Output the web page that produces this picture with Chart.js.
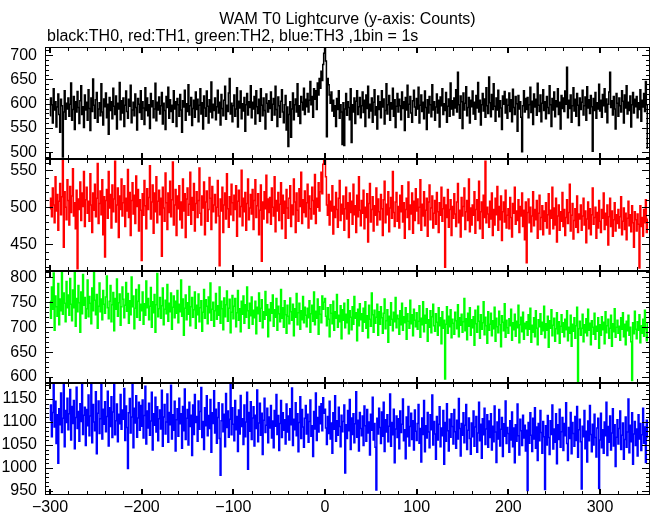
<!DOCTYPE html>
<html>
<head>
<meta charset="utf-8">
<title>WAM T0 Lightcurve</title>
<script src="https://cdn.jsdelivr.net/npm/chart.js@4/dist/chart.umd.min.js"></script>
<style>
  html, body { margin: 0; padding: 0; background: #fff; overflow: hidden; }
  canvas { display: block; }
</style>
</head>
<body>
<canvas id="lc" width="652" height="515"></canvas>
<script>
// ---- Dados (contagens por bin de 1 s, t = -300 ... 352) ----
const T_START = -300;
const BIN = 1;

const th0 = [
  575,612,598,560,631,587,604,552,593,620,578,541,609,596,490,583,627,568,601,589,
  612,574,599,643,566,588,615,547,604,583,625,592,559,606,637,578,594,551,618,587,
  603,566,629,590,545,612,584,651,597,570,608,623,562,589,602,575,641,583,556,610,
  594,622,571,599,537,613,586,604,569,632,595,578,616,548,601,589,644,567,606,581,
  612,553,597,626,584,570,609,595,638,561,587,603,575,620,592,546,611,599,582,627,
  568,604,591,557,633,586,612,575,598,549,621,594,606,571,589,642,565,603,587,614,
  579,596,623,558,601,586,547,615,592,634,570,608,584,597,562,627,589,604,553,611,
  598,574,619,587,541,606,593,628,566,600,584,639,577,596,613,555,590,607,572,624,
  588,609,563,597,631,579,602,548,616,591,574,626,595,560,608,583,645,571,599,586,
  612,567,594,628,581,603,556,619,590,575,607,636,568,597,584,622,652,579,601,563,
  596,618,574,589,633,552,605,591,626,569,600,585,613,543,598,621,577,604,592,637,
  571,603,589,615,558,627,594,580,609,564,631,597,575,612,586,548,620,601,583,606,
  590,624,566,599,611,577,636,588,553,614,596,572,605,629,583,561,598,617,546,593,
  512,578,604,531,589,622,567,598,610,583,641,574,596,559,615,603,587,632,578,609,
  594,621,583,607,646,598,615,572,631,609,627,588,643,618,652,632,667,648,681,704,
  716,688,532,652,639,618,601,624,585,607,574,596,553,611,588,627,570,598,583,516,
  602,514,589,621,576,604,592,567,631,520,598,583,612,559,605,627,578,594,613,571,
  596,624,582,607,553,618,590,636,571,599,585,612,562,603,629,577,594,548,616,588,
  604,571,627,593,610,558,586,641,579,598,617,566,602,589,632,574,608,551,595,621,
  583,609,596,567,624,590,604,545,613,587,638,572,599,615,581,562,606,628,593,576,
  611,589,634,560,597,618,584,603,569,626,592,547,608,581,615,598,573,639,587,604,
  566,593,620,581,607,552,614,596,631,578,600,586,623,562,595,610,574,643,589,606,
  577,612,591,629,583,665,598,570,616,604,549,622,587,601,635,575,592,613,560,607,
  594,626,579,603,568,617,591,644,583,607,556,598,621,585,610,572,633,596,580,655,
  602,573,619,588,641,595,564,612,587,628,573,606,591,547,616,599,625,581,609,570,
  597,622,584,608,563,630,592,578,615,600,543,617,589,604,572,501,596,627,583,611,
  588,613,571,598,634,582,605,557,620,593,609,576,642,597,584,618,563,601,629,586,
  604,569,615,592,580,637,598,553,611,587,624,573,606,594,631,578,603,548,617,590,
  612,584,626,599,675,571,607,590,618,562,596,633,585,609,574,621,597,555,612,588,
  603,628,577,596,614,566,635,591,608,580,617,594,502,611,586,623,570,602,589,640,
  585,607,572,619,596,631,583,610,561,599,624,665,592,606,577,615,589,548,621,601,
  574,612,596,583,627,605,560,618,591,637,579,603,586,616,552,598,623,581,609,594,
  615,571,602,588,629,564,607,593,621,584,646,598,508
];

const th1 = [
  498,512,487,526,503,479,541,495,517,469,508,532,490,514,563,446,521,500,483,537,
  509,476,528,493,515,552,488,506,471,523,417,511,497,534,482,519,501,548,474,510,
  527,492,508,481,545,503,466,519,496,531,487,512,559,478,505,522,490,537,463,514,
  433,509,524,485,548,499,517,472,530,494,511,562,480,503,526,459,515,497,538,488,
  506,529,474,512,495,551,486,520,462,509,533,491,516,478,542,501,524,468,510,496,
  428,518,489,536,502,471,525,497,513,556,484,507,530,465,519,494,541,479,508,523,
  490,512,434,527,499,481,546,506,470,519,493,535,487,510,561,476,503,524,462,515,
  498,529,483,507,472,538,495,518,459,511,526,489,504,547,477,513,496,532,468,505,
  521,486,509,553,492,476,515,499,534,463,507,522,481,497,540,512,470,528,494,503,
  517,479,500,536,488,421,511,495,527,466,503,519,484,545,498,473,514,490,531,506,
  482,516,497,529,461,508,523,487,501,550,475,512,494,520,469,505,538,483,499,517,
  491,524,470,509,537,486,502,518,463,496,530,427,507,484,521,498,543,479,511,493,
  513,477,526,500,488,541,467,509,495,520,482,504,533,471,516,492,508,458,524,499,
  485,512,529,474,503,490,538,507,466,519,496,481,525,501,547,478,510,493,522,487,
  506,531,472,515,498,484,527,509,491,544,478,512,500,533,495,521,547,518,558,572,
  568,541,503,489,517,476,508,495,529,464,501,486,520,497,473,512,536,482,504,491,
  515,469,498,527,484,506,459,519,493,508,477,531,490,502,466,516,487,541,496,475,
  509,492,523,471,500,486,518,453,505,532,480,497,514,468,502,489,526,476,511,494,
  483,517,498,462,510,535,479,504,490,521,467,499,513,485,548,493,474,507,520,481,
  501,472,516,494,529,480,506,458,497,512,486,534,470,503,491,519,465,508,482,525,
  495,511,478,500,537,469,504,488,521,475,496,512,461,507,530,483,499,515,472,492,
  509,477,520,494,466,506,489,527,481,498,513,419,503,486,524,473,497,510,462,501,
  485,518,491,474,507,532,479,496,460,513,488,501,526,470,494,509,482,538,467,499,
  476,503,489,521,465,497,510,482,535,471,494,507,458,516,486,562,479,500,491,473,
  508,484,519,462,497,476,512,490,528,469,501,483,515,455,494,507,480,523,472,489,
  498,471,513,486,460,505,492,527,477,495,482,510,466,501,488,519,474,496,456,507,
  425,493,511,479,500,467,488,521,475,497,483,509,458,492,516,470,486,502,463,495,
  481,506,472,490,518,464,496,485,527,471,499,476,512,453,488,503,469,494,481,520,
  474,497,462,486,510,478,493,531,468,489,505,457,482,498,473,515,466,491,484,503,
  469,488,512,476,495,452,484,507,471,498,463,490,526,477,486,500,458,493,472,509,
  481,466,497,485,519,470,492,476,503,449,487,512,474,495,461,483,506,468,490,478,
  497,472,487,514,463,481,499,470,492,456,485,508,475,490,467,502,479,446,494,483,
  468,491,477,418,502,474,486,461,497,479,510,466,484
];

const th2 = [
  752,718,781,736,809,694,763,741,722,788,705,757,733,816,726,769,748,711,792,739,
  765,724,798,746,713,775,739,821,702,758,731,784,749,690,771,727,806,744,760,718,
  737,795,721,762,748,707,779,733,812,754,725,766,698,742,789,731,757,715,774,746,
  728,761,803,739,717,752,784,711,745,770,693,758,736,797,722,749,767,704,741,781,
  756,719,744,790,732,768,708,753,725,801,741,763,697,738,776,720,752,785,714,746,
  733,771,706,747,724,793,739,758,715,742,780,700,751,729,766,690,745,808,721,737,
  760,718,743,779,705,736,754,727,786,712,748,731,769,696,740,763,719,752,728,774,
  709,746,731,795,722,757,684,738,765,715,749,726,782,703,741,760,720,735,771,698,
  744,725,767,711,739,753,692,730,776,718,755,742,707,761,729,789,714,736,750,702,
  733,768,716,743,724,781,708,752,737,695,759,721,745,773,712,738,756,689,730,764,
  717,742,758,701,729,774,714,737,691,752,726,763,708,745,720,781,733,698,748,723,
  761,706,734,719,752,687,740,727,769,712,738,755,699,731,716,772,724,745,681,736,
  713,749,728,765,702,735,720,758,694,742,727,711,776,718,739,700,753,725,688,744,
  722,707,759,731,714,746,683,737,720,768,705,729,748,696,733,715,762,709,740,724,
  701,738,719,753,690,727,744,712,771,705,732,718,757,686,741,726,709,763,736,750,
  758,722,703,739,716,681,745,728,707,752,694,731,718,766,700,724,711,743,677,735,
  714,748,699,726,709,755,687,733,720,695,741,706,762,718,729,673,736,703,747,715,
  727,692,738,710,751,698,723,679,744,716,702,769,725,690,734,708,720,746,684,731,
  706,741,719,688,728,757,697,713,735,670,722,704,749,716,693,730,711,760,699,724,
  717,686,733,705,748,694,721,709,739,676,727,712,698,754,707,725,683,736,714,701,
  729,696,712,743,680,718,705,751,691,724,708,737,672,715,700,733,689,721,746,703,
  692,727,710,684,739,703,719,667,731,698,714,596,706,741,688,722,701,735,679,716,
  708,686,730,713,697,745,681,719,704,726,690,711,758,693,717,675,728,702,739,684,
  715,699,721,664,734,707,690,742,712,678,725,696,709,751,685,720,703,668,731,694,
  706,728,683,713,697,740,672,718,701,689,732,705,661,723,710,693,747,680,714,699,
  688,717,703,736,674,709,695,726,682,712,699,744,669,705,720,691,730,676,708,697,
  711,684,725,696,738,670,704,690,719,681,733,698,665,715,701,727,686,710,693,742,
  679,707,694,722,660,713,698,735,683,704,718,672,697,729,687,711,668,702,725,690,
  709,681,716,695,733,673,700,688,724,662,706,692,719,678,703,740,591,697,712,684,
  698,726,671,705,689,717,683,736,694,708,665,713,700,686,728,676,702,692,719,658,
  705,684,721,695,710,667,731,689,703,716,678,698,724,662,707,691,737,680,700,714,
  688,702,674,719,696,729,681,706,665,712,693,724,684,700,671,593,709,687,732,696,
  677,711,694,725,669,703,688,716,682,734,697,673,708
];

const th3 = [
  1104,1137,1068,1121,1182,1089,1145,1053,1116,1010,1129,1094,1163,1077,1108,1188,1046,1125,1099,1152,
  1083,1118,1171,1061,1134,1097,1147,1042,1110,1176,1086,1123,1058,1140,1101,1189,1073,1115,1132,1049,
  1127,1092,1159,1070,1113,1185,1055,1138,1100,1081,1166,1031,1119,1146,1075,1107,1181,1063,1128,1095,
  1144,1079,1112,1167,1048,1131,1090,1155,1066,1122,1187,1072,1103,1139,1057,1117,1096,1160,1084,1126,
  1106,1173,1060,1135,1088,999,1120,1151,1076,1111,1184,1044,1130,1098,1157,1067,1109,1143,1082,1136,
  1091,1148,1065,1114,1178,1052,1124,1087,1141,1071,1102,1165,1039,1118,1093,1154,1078,1133,1059,1107,
  1126,1085,1169,1047,1111,1138,1074,1100,1161,1056,1121,1094,1180,1063,1116,1082,1145,1037,1105,1129,
  1069,1152,1096,1118,1043,1134,1081,1172,1062,1108,1127,1050,1143,1090,1115,1027,1137,1073,1160,1099,
  1112,1058,1146,1084,1123,1175,1066,1101,1040,1131,1092,1157,1070,1114,1086,1149,1034,1120,1097,1168,
  1076,1128,1054,1110,1142,1064,984,1103,1139,1079,1117,1046,1162,1088,1124,1067,1106,1183,1072,1131,
  1095,1059,1147,1083,1112,1036,1126,1074,1158,1090,1107,1051,1137,1068,1100,1165,997,1121,1080,1144,
  1062,1109,1133,1048,1115,1086,1170,1057,1098,1141,1071,1119,1029,1104,1152,1077,1093,1130,1055,1111,
  1087,1136,1065,1102,1044,1125,1091,1160,1073,1114,1038,1097,1147,1066,1120,1082,1105,1052,1139,1078,
  1113,1061,1129,1094,1174,1049,1106,1083,1142,1070,1118,1035,1099,1155,1064,1127,1089,1045,1108,1136,
  1074,1117,1056,1101,1148,1069,1092,1025,1123,1085,1163,1060,1110,1078,1134,1096,1140,1081,1153,1119,
  1128,1087,1051,1112,1075,1145,1063,1098,1032,1120,1084,1157,1058,1103,1071,1132,1090,1046,1115,1079,
  1101,1137,989,1094,1064,1125,1081,1149,1040,1109,1073,1118,1055,1096,1166,1067,1104,1037,1121,1086,
  1070,1113,1049,1135,1092,1058,1127,1076,1100,1028,1117,1082,1154,1061,1097,1045,952,1108,1074,1130,
  1088,1053,1122,1069,1143,1036,1105,1078,1116,1057,1091,1161,1047,1099,1072,1128,1011,1085,1113,1066,
  1107,1042,1124,1077,1095,1150,1059,1083,1020,1111,1068,1134,1048,1090,1119,1062,1103,1039,1126,1080,
  1060,1097,1138,1054,1086,1013,1109,1073,1147,1035,1092,1065,1121,1078,1044,1116,1083,1159,1050,1101,
  1074,1019,1112,1061,1095,1133,1046,1087,1070,1125,1008,1099,1058,1140,1081,1037,1106,1067,1118,1090,
  1052,1127,1079,1043,1104,1063,1151,1086,1026,1097,1071,1120,1055,1093,1138,1040,1082,1109,1064,1030,
  1098,1068,1124,1047,1089,1112,1034,1076,1143,1059,1095,1021,1107,1072,1130,1051,1085,1116,1045,1102,
  1066,1118,1039,1091,1057,1135,1078,1012,1100,1063,1127,1048,1084,1110,1025,1096,1069,1146,1053,1088,
  1075,1034,1103,1061,1122,1046,1087,1011,1094,1058,1139,1070,1028,1106,1081,1049,1115,1065,1093,1037,
  1082,951,1099,1054,1120,1071,1036,1108,1063,1131,1043,1089,1016,1097,1059,1125,1077,1032,1101,1068,
  953,1092,1050,1114,1066,1029,1103,1073,1137,1041,1085,1056,1118,1009,1094,1062,1128,1045,1079,1110,
  1038,1097,1070,1142,1053,1016,1088,1064,1121,1031,1099,1075,1047,1112,1060,1134,1023,1083,1106,1057,
  954,1091,1068,1125,1042,1080,1013,1102,1059,1136,1073,1035,1095,1050,1117,1066,1024,1087,1108,955,
  1061,1119,1044,1083,1032,1100,1070,1143,1027,1090,1056,1113,1039,1076,1129,1048,1094,1003,1067,1105,
  1052,1086,1124,1040,1071,1098,1019,1062,1111,1045,1078,1150,1033,1093,1057,1120,1008,1074,1101,1049,
  1085,1026,1116,1063,1097,1038,1072,1130,1054,1089,1012,1104,1066
];

// ---- Eixos ----
const xTicks = [-300, -200, -100, 0, 100, 200, 300];
const xRange = [-305.5, 354.5];
const yTicks0 = [500, 550, 600, 650, 700];
const yTicks1 = [450, 500, 550];
const yTicks2 = [600, 650, 700, 750, 800];
const yTicks3 = [950, 1000, 1050, 1100, 1150];
const yRange0 = [486, 717];
const yRange1 = [414, 565];
const yRange2 = [588, 813];
const yRange3 = [941, 1185];

const titleText = 'WAM T0 Lightcurve (y-axis: Counts)';
const subText = 'black:TH0, red:TH1, green:TH2, blue:TH3 ,1bin = 1s';

const FONT = 'Liberation Sans, Arial, Helvetica, sans-serif';
Chart.defaults.font.family = FONT;
Chart.defaults.color = '#000';

const panels = [
  { id: 'y0', data: th0, color: '#000000', ticks: yTicks0, range: yRange0 },
  { id: 'y1', data: th1, color: '#ff0000', ticks: yTicks1, range: yRange1 },
  { id: 'y2', data: th2, color: '#00ff00', ticks: yTicks2, range: yRange2 },
  { id: 'y3', data: th3, color: '#0000ff', ticks: yTicks3, range: yRange3 }
];

const minus = v => String(v).replace('-', '\u2212');

const scales = {
  x: {
    type: 'linear', min: xRange[0], max: xRange[1],
    grid: { display: false, drawTicks: false }, border: { display: false },
    afterBuildTicks: s => { s.ticks = xTicks.map(v => ({ value: v })); },
    afterFit: s => { s.height = 20; },
    ticks: { font: { size: 16 }, padding: 3, maxRotation: 0, autoSkip: false, callback: minus }
  }
};
// o Chart.js empilha de baixo para cima: declarar TH3 primeiro
panels.slice().reverse().forEach(p => {
  scales[p.id] = {
    type: 'linear', position: 'left', stack: 'lc', stackWeight: 1,
    min: p.range[0], max: p.range[1],
    grid: { display: false, drawTicks: false }, border: { display: false },
    afterBuildTicks: s => { s.ticks = p.ticks.map(v => ({ value: v })); },
    afterFit: s => { s.width = 45; },
    ticks: { font: { size: 16 }, padding: 8, autoSkip: false, callback: v => String(v) }
  };
});

// recorta cada curva dentro do seu painel
const panelClip = {
  id: 'panelClip',
  beforeDatasetDraw(chart, args) {
    const ys = chart.scales[args.meta.yAxisID];
    const a = chart.chartArea;
    chart.ctx.save();
    chart.ctx.beginPath();
    chart.ctx.rect(a.left, ys.top, a.right - a.left, ys.bottom - ys.top);
    chart.ctx.clip();
  },
  afterDatasetDraw(chart) {
    chart.ctx.restore();
  }
};

// moldura + marcas para dentro (estilo IDL)
const frame = {
  id: 'frame',
  afterDatasetsDraw(chart) {
    const { ctx, chartArea: a, scales: sc } = chart;
    const xs = sc.x;
    const L = Math.round(a.left), R = Math.round(a.right);
    ctx.save();
    ctx.strokeStyle = '#000';
    panels.forEach(p => {
      const ys = sc[p.id];
      const top = Math.round(ys.top), bot = Math.round(ys.bottom);
      ctx.lineWidth = 1;
      ctx.beginPath();
      ctx.moveTo(L, top + 0.5); ctx.lineTo(R, top + 0.5);
      ctx.moveTo(L, bot - 0.5); ctx.lineTo(R, bot - 0.5);
      ctx.moveTo(L + 0.5, top); ctx.lineTo(L + 0.5, bot);
      ctx.moveTo(R - 0.5, top); ctx.lineTo(R - 0.5, bot);
      // y: menor a cada 10, maior nos rótulos
      for (let v = Math.ceil(ys.min / 10) * 10; v <= ys.max; v += 10) {
        const y = Math.round(ys.getPixelForValue(v)) + 0.5;
        const len = p.ticks.includes(v) ? 8 : 4;
        ctx.moveTo(L, y); ctx.lineTo(L + len, y);
        ctx.moveTo(R, y); ctx.lineTo(R - len, y);
      }
      ctx.stroke();
      // x: menor a cada 20, maior a cada 100
      for (let v = -300; v <= xs.max; v += 20) {
        const major = xTicks.includes(v);
        const x = Math.round(xs.getPixelForValue(v)) + (major ? 0 : 0.5);
        const len = major ? 6 : 4;
        ctx.lineWidth = major ? 2 : 1;
        ctx.beginPath();
        ctx.moveTo(x, top); ctx.lineTo(x, top + len);
        ctx.moveTo(x, bot); ctx.lineTo(x, bot - len);
        ctx.stroke();
      }
    });
    ctx.restore();
  }
};

// títulos
const titles = {
  id: 'titles',
  afterDraw(chart) {
    const ctx = chart.ctx;
    const a = chart.chartArea;
    ctx.save();
    ctx.fillStyle = '#000';
    ctx.font = '16px ' + FONT;
    ctx.textBaseline = 'alphabetic';
    ctx.textAlign = 'center';
    ctx.fillText(titleText, (a.left + a.right) / 2, 24);
    ctx.textAlign = 'left';
    ctx.fillText(subText, a.left + 2, 41);
    ctx.restore();
  }
};

new Chart(document.getElementById('lc'), {
  type: 'line',
  data: {
    datasets: panels.map(p => ({
      label: p.id,
      data: p.data.map((v, i) => ({ x: T_START + i * BIN, y: v })),
      yAxisID: p.id,
      borderColor: p.color,
      borderWidth: 1.5,
      pointRadius: 0,
      stepped: 'middle',
      fill: false
    }))
  },
  options: {
    responsive: false,
    devicePixelRatio: 1,
    animation: false,
    layout: { padding: { top: 47, right: 2, left: 0, bottom: 0 } },
    plugins: { legend: { display: false }, tooltip: { enabled: false } },
    scales
  },
  plugins: [panelClip, frame, titles]
});
</script>
</body>
</html>
